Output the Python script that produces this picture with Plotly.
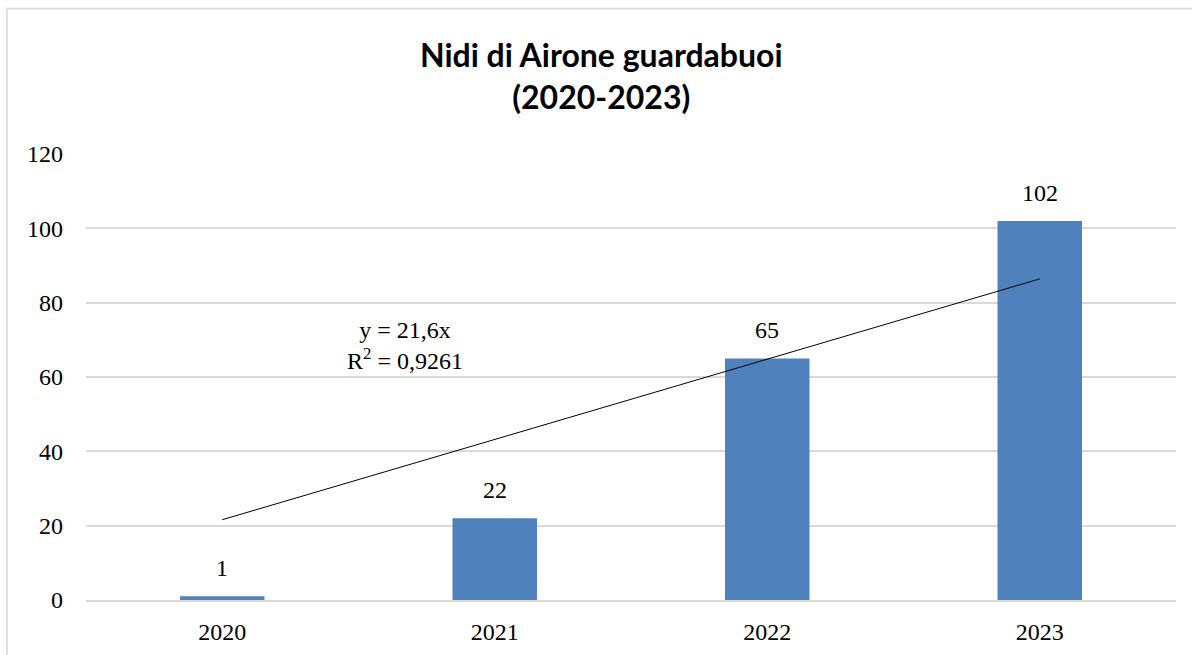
import plotly.graph_objects as go

years = ["2020", "2021", "2022", "2023"]
nests = [1, 22, 65, 102]
trend_slope = 21.6
trend_r2 = "0,9261"
y_ticks = [0, 20, 40, 60, 80, 100, 120]

# linear trend y = 21.6 * x, x = 1..4 (Excel category index)
trend_y = [trend_slope * (i + 1) for i in range(len(years))]

bar_color = "#4f81bd"
grid_color = "#d9d9d9"
serif = "Liberation Serif"

fig = go.Figure()
fig.add_trace(go.Bar(x=years, y=nests, width=0.31, marker=dict(color=bar_color, line=dict(width=0)),
                     showlegend=False, hoverinfo="skip"))
fig.add_trace(go.Scatter(x=years, y=trend_y, mode="lines", line=dict(color="black", width=1),
                         showlegend=False, hoverinfo="skip"))

for i, v in enumerate(nests):
    fig.add_annotation(x=i, y=v, text=str(v), showarrow=False, yanchor="bottom", yshift=13,
                       font=dict(family=serif, size=24, color="black"))

fig.add_annotation(x=0.67, y=68.5, text=f"y = {str(trend_slope).replace('.', ',')}x<br>R<sup>2</sup> = {trend_r2}",
                   showarrow=False, align="center", font=dict(family=serif, size=24, color="black"))

# title
fig.add_annotation(xref="paper", yref="paper", x=0.473, y=(600 - 76) / 446, xanchor="center", yanchor="middle",
                   text="<b>Nidi di Airone guardabuoi<br>(2020-2023)</b>", showarrow=False, align="center",
                   font=dict(family="Lato", size=32, color="black"))

fig.add_shape(type="rect", xref="paper", yref="paper", x0=-0.0725, x1=1.3, y0=-0.3, y1=(600 - 8.5) / 446,
              line=dict(color=grid_color, width=1.5), fillcolor="rgba(0,0,0,0)", layer="below")

fig.update_layout(
    width=1192, height=655,
    margin=dict(l=86, r=16, t=154, b=55, autoexpand=False),
    paper_bgcolor="white", plot_bgcolor="white",
    xaxis=dict(type="category", range=[-0.5, 3.5], showgrid=False, showline=True, linecolor=grid_color,
               linewidth=1.5, ticks="", tickfont=dict(family=serif, size=24, color="black"),
               ticklabelstandoff=9, zeroline=False, automargin=False),
    yaxis=dict(range=[0, 120], tickvals=y_ticks, showgrid=True, gridcolor=grid_color, gridwidth=1.5,
               showline=False, zeroline=False, ticks="", automargin=False,
               tickfont=dict(family=serif, size=24, color="black"), ticklabelstandoff=22),
    bargap=0.69,
)

fig.write_html("out.html", config={"displayModeBar": False},
               post_script="document.body.style.margin='0';document.body.style.overflow='hidden';")
